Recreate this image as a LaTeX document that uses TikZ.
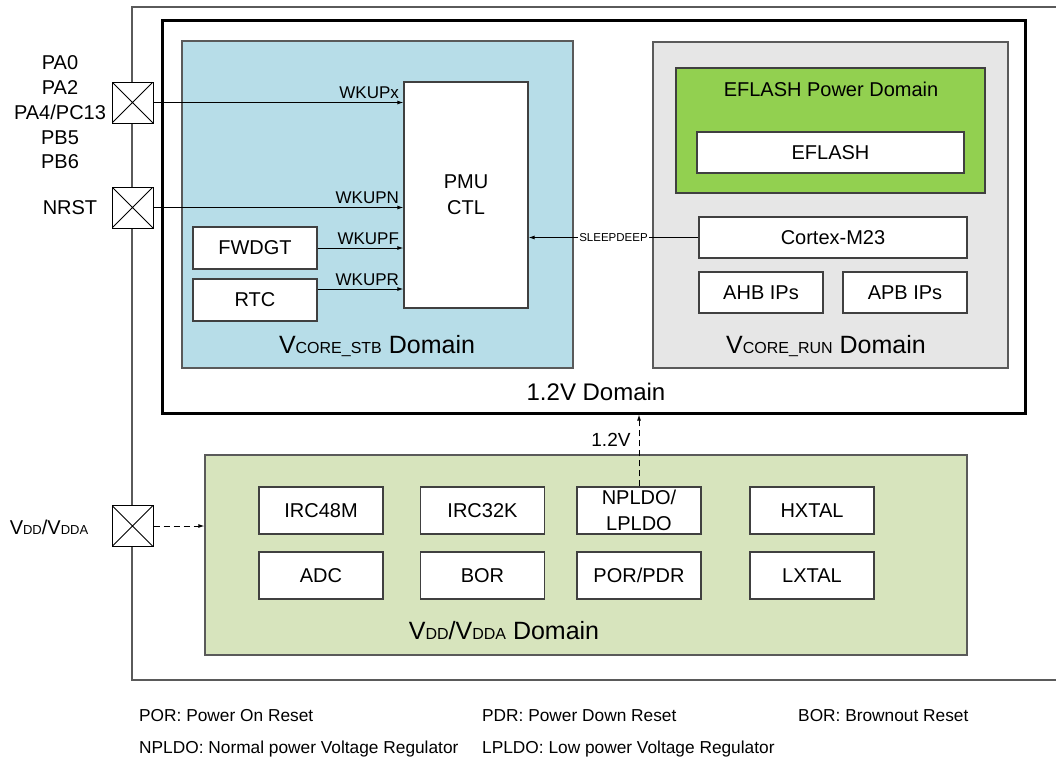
\documentclass[tikz,border=0pt]{standalone}
\usepackage{fontspec}
\setmainfont{Liberation Sans}
\usetikzlibrary{arrows.meta}
\definecolor{stbfill}{HTML}{B7DDE8}
\definecolor{runfill}{HTML}{E6E6E6}
\definecolor{flashfill}{HTML}{92D050}
\definecolor{vddfill}{HTML}{D7E4BD}
\definecolor{boxgray}{HTML}{404040}
\definecolor{domgray}{HTML}{5A5A5A}
\begin{document}
\begin{tikzpicture}[x=1pt,y=-1pt,
  box/.style={draw=boxgray, fill=white, line width=1.2pt, inner sep=0pt,
    align=center, font=\fontsize{20}{26}\selectfont},
  pdomain/.style={draw=domgray, line width=1.2pt, inner sep=0pt},
  pin/.style={draw=black, fill=white, line width=1pt, minimum size=41pt, inner sep=0pt,
    path picture={\draw[line width=0.8pt]
      (path picture bounding box.north west) -- (path picture bounding box.south east)
      (path picture bounding box.north east) -- (path picture bounding box.south west);}},
  sig/.style={draw=black, line width=1pt, -{Latex[length=6pt,width=4pt]}},
  dsig/.style={sig, dash pattern=on 6pt off 4pt},
  wk/.style={font=\fontsize{17}{20}\selectfont, inner sep=0pt},
  dlabel/.style={inner sep=0pt},
  legend/.style={font=\fontsize{17.3}{20}\selectfont, anchor=west, inner sep=0pt}
]
\useasboundingbox (0,0) rectangle (1056,758);

% chip outline (runs off the right edge)
\draw[domgray, line width=1.3pt] (1060,7) -- (132,7) -- (132,680) -- (1060,680);

% 1.2V domain
\node[draw=black, line width=3pt, minimum width=863pt, minimum height=393pt, inner sep=0pt]
  (dom12) at (593.5,216.5) {};

% VCORE_STB domain
\node[pdomain, fill=stbfill, minimum width=391pt, minimum height=327pt] (stb) at (377.5,204.5) {};
\node[box, minimum width=124pt, minimum height=226pt] (pmu) at (466,195) {PMU\\CTL};
\node[box, minimum width=124pt, minimum height=42pt] (fwdgt) at (255,248) {FWDGT};
\node[box, minimum width=124pt, minimum height=42pt] (rtc) at (255,300) {RTC};

% VCORE_RUN domain
\node[pdomain, fill=runfill, minimum width=355pt, minimum height=326pt] (run) at (830.5,205) {};
\node[pdomain, draw=boxgray, fill=flashfill, minimum width=309pt, minimum height=125pt] (efpd) at (830.5,130.5) {};
\node[font=\fontsize{20}{24}\selectfont, inner sep=0pt] (efpdlbl) at (831,89) {EFLASH Power Domain};
\node[box, minimum width=267pt, minimum height=41pt] (eflash) at (830.5,152.5) {EFLASH};
\node[box, minimum width=268pt, minimum height=41pt] (cortex) at (833,237.5) {Cortex-M23};
\node[box, minimum width=124pt, minimum height=41pt] (ahb) at (761,292.5) {AHB IPs};
\node[box, minimum width=124pt, minimum height=41pt] (apb) at (905,292.5) {APB IPs};

% VDD/VDDA domain
\node[pdomain, fill=vddfill, minimum width=762pt, minimum height=200pt] (vdd) at (586,555) {};
\node[box, minimum width=124pt, minimum height=47pt] (irc48) at (321,510.5) {IRC48M};
\node[box, minimum width=124pt, minimum height=47pt] (irc32) at (482.5,510.5) {IRC32K};
\node[box, minimum width=124pt, minimum height=47pt] (ldo) at (639,510.5) {NPLDO/\\LPLDO};
\node[box, minimum width=124pt, minimum height=47pt] (hxtal) at (812,510.5) {HXTAL};
\node[box, minimum width=124pt, minimum height=47pt] (adc) at (321,575.5) {ADC};
\node[box, minimum width=124pt, minimum height=47pt] (bor) at (482.5,575.5) {BOR};
\node[box, minimum width=124pt, minimum height=47pt] (porpdr) at (639,575.5) {POR/PDR};
\node[box, minimum width=124pt, minimum height=47pt] (lxtal) at (812,575.5) {LXTAL};

% pads
\node[pin] (pwk) at (132.5,102.5) {};
\node[pin] (prst) at (132.5,207.5) {};
\node[pin] (pvdd) at (132.5,526) {};

% wake-up signals into the PMU
\draw[sig] (pwk.east) -- (pwk.east -| pmu.west)
  node[wk, anchor=south east, pos=1, xshift=-4pt, yshift=3pt] {WKUPx};
\draw[sig] (prst.east) -- (prst.east -| pmu.west)
  node[wk, anchor=south east, pos=1, xshift=-4pt, yshift=3pt] {WKUPN};
\draw[sig] (fwdgt.east) -- (fwdgt.east -| pmu.west)
  node[wk, anchor=south east, pos=1, xshift=-4pt, yshift=3pt] {WKUPF};
\draw[sig] ([yshift=11pt]rtc.east) -- ([yshift=11pt]rtc.east -| pmu.west)
  node[wk, anchor=south east, pos=1, xshift=-4pt, yshift=3pt] {WKUPR};
\draw[sig] (cortex.west) -- (cortex.west -| pmu.east)
  node[midway, fill=white, inner sep=1pt, font=\fontsize{11.5}{13}\selectfont] {SLEEPDEEP};

% supply paths
\draw[dsig] (ldo.north) -- (ldo.north |- dom12.south)
  node[pos=0.65, anchor=east, xshift=-8pt, font=\fontsize{19}{22}\selectfont, inner sep=0pt] {1.2V};
\draw[dsig] (pvdd.east) -- (pvdd.east -| vdd.west);

% pad names
\node[font=\fontsize{20}{24.7}\selectfont, align=center, inner sep=0pt] (pwklbl) at (60,112.5)
  {PA0\\PA2\\PA4/PC13\\PB5\\PB6};
\node[font=\fontsize{20}{24}\selectfont, inner sep=0pt] (prstlbl) at (70,207.5) {NRST};
\node[inner sep=0pt] (pvddlbl) at (49,527)
  {\fontsize{20}{24}\selectfont V{\fontsize{13}{15}\selectfont DD}/V{\fontsize{13}{15}\selectfont DDA}};

% domain names
\node[dlabel] (stblbl) at (377,346)
  {\fontsize{25}{30}\selectfont V{\fontsize{16}{18}\selectfont CORE\_STB} Domain};
\node[dlabel] (runlbl) at (826,346)
  {\fontsize{25}{30}\selectfont V{\fontsize{16}{18}\selectfont CORE\_RUN} Domain};
\node[dlabel, font=\fontsize{24}{28}\selectfont] (dom12lbl) at (596,392) {1.2V Domain};
\node[dlabel] (vddlbl) at (504,631)
  {\fontsize{25}{30}\selectfont V{\fontsize{16}{18}\selectfont DD}/V{\fontsize{16}{18}\selectfont DDA} Domain};

% abbreviations
\node[legend] (lg1) at (139,716) {POR: Power On Reset};
\node[legend] (lg2) at (482,716) {PDR: Power Down Reset};
\node[legend] (lg3) at (798,716) {BOR: Brownout Reset};
\node[legend] (lg4) at (139,749) {NPLDO: Normal power Voltage Regulator};
\node[legend] (lg5) at (482,749) {LPLDO: Low power Voltage Regulator};
\end{tikzpicture}
\end{document}
